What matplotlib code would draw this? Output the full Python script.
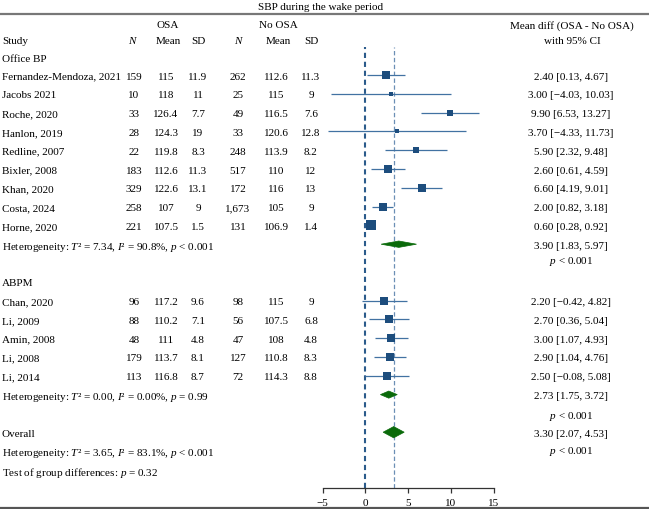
import matplotlib
matplotlib.use("Agg")
import matplotlib.pyplot as plt
import matplotlib.transforms as mtrans
from matplotlib.patches import Polygon
from matplotlib.lines import Line2D
import numpy as np

plt.rcParams['font.family'] = ['Liberation Serif', 'DejaVu Serif']
plt.rcParams['mathtext.fontset'] = 'custom'
plt.rcParams['mathtext.rm'] = 'Liberation Serif'
plt.rcParams['mathtext.it'] = 'Liberation Serif:italic'

# ---------------- data ----------------
office_studies = ["Fernandez-Mendoza, 2021", "Jacobs 2021", "Roche, 2020", "Hanlon, 2019",
                  "Redline, 2007", "Bixler, 2008", "Khan, 2020", "Costa, 2024", "Horne, 2020"]
office_n1 = [159, 10, 33, 28, 22, 183, 329, 258, 221]
office_mean1 = [115, 118, 126.4, 124.3, 119.8, 112.6, 122.6, 107, 107.5]
office_sd1 = [11.9, 11, 7.7, 19, 8.3, 11.3, 13.1, 9, 1.5]
office_n2 = [262, 25, 49, 33, 248, 517, 172, 1673, 131]
office_mean2 = [112.6, 115, 116.5, 120.6, 113.9, 110, 116, 105, 106.9]
office_sd2 = [11.3, 9, 7.6, 12.8, 8.2, 12, 13, 9, 1.4]
office_md = [2.40, 3.00, 9.90, 3.70, 5.90, 2.60, 6.60, 2.00, 0.60]
office_lo = [0.13, -4.03, 6.53, -4.33, 2.32, 0.61, 4.19, 0.82, 0.28]
office_hi = [4.67, 10.03, 13.27, 11.73, 9.48, 4.59, 9.01, 3.18, 0.92]
office_weight = [10.5, 3.5, 9.5, 4.0, 7.5, 12.0, 12.0, 15.0, 17.0]

abpm_studies = ["Chan, 2020", "Li, 2009", "Amin, 2008", "Li, 2008", "Li, 2014"]
abpm_n1 = [96, 88, 48, 179, 113]
abpm_mean1 = [117.2, 110.2, 111, 113.7, 116.8]
abpm_sd1 = [9.6, 7.1, 4.8, 8.1, 8.7]
abpm_n2 = [98, 56, 47, 127, 72]
abpm_mean2 = [115, 107.5, 108, 110.8, 114.3]
abpm_sd2 = [9, 6.8, 4.8, 8.3, 8.8]
abpm_md = [2.20, 2.70, 3.00, 2.90, 2.50]
abpm_lo = [-0.42, 0.36, 1.07, 1.04, -0.08]
abpm_hi = [4.82, 5.04, 4.93, 4.76, 5.08]
abpm_weight = [10.0, 10.0, 12.5, 12.5, 10.0]

pooled_labels = ["Office BP", "ABPM", "Overall"]
pooled_md = [3.90, 2.73, 3.30]
pooled_lo = [1.83, 1.75, 2.07]
pooled_hi = [5.97, 3.72, 4.53]
pooled_p = ["$p$ < 0.001", "$p$ < 0.001", "$p$ < 0.001"]
het_texts = ["Heterogeneity: $T$\u00b2 = 7.34, $I$\u00b2 = 90.8%, $p$ < 0.001",
             "Heterogeneity: $T$\u00b2 = 0.00, $I$\u00b2 = 0.00%, $p$ = 0.99",
             "Heterogeneity: $T$\u00b2 = 3.65, $I$\u00b2 = 83.1%, $p$ < 0.001"]
group_test_text = "Test of group differences: $p$ = 0.32"
x_ticks = [-5, 0, 5, 10, 15]
title = "SBP during the wake period"

# ---------------- layout ----------------
W, H = 649, 510
fig = plt.figure(figsize=(W / 100, H / 100), dpi=100)
FS = 8.0
VA = "center_baseline"

ROW0_PX = 76.0
ROW_PX = 18.8
AX_TOP_PX, AX_BOT_PX = 48.0, 489.0
AX_L_PX, AX_R_PX = 322.7, 493.7

ax = fig.add_axes([AX_L_PX / W, 1 - AX_BOT_PX / H, (AX_R_PX - AX_L_PX) / W, (AX_BOT_PX - AX_TOP_PX) / H])
ax.set_xlim(x_ticks[0], x_ticks[-1])
ax.set_ylim((AX_BOT_PX - ROW0_PX) / ROW_PX, (AX_TOP_PX - ROW0_PX) / ROW_PX)
ax.patch.set_alpha(0)
for s in ["top", "left", "right"]:
    ax.spines[s].set_visible(False)
ax.spines["bottom"].set_color("#333333")
ax.spines["bottom"].set_linewidth(0.9)
ax.set_yticks([])
ax.set_xticks(x_ticks)
ax.set_xticklabels([f"{t}".replace("-", "\u2212") for t in x_ticks], fontsize=FS)
ax.tick_params(axis="x", direction="out", length=3.5, width=0.9, color="#333333", pad=3.5)

trans = mtrans.blended_transform_factory(fig.transFigure, ax.transData)

def fx(px):
    return px / W

def row_of_px(py):
    return (py - ROW0_PX) / ROW_PX

def txt(px, y, s, ha="center", **kw):
    fig.text(fx(px), y, s, transform=trans, ha=ha, va=VA, fontsize=FS, **kw)

SQ_COL = "#1d4d7d"
LN_COL = "#4272a2"
DM_COL = "#0a6a0a"

# reference lines
ax.axvline(0, color="#2b5b8b", lw=1.5, ls=(0, (2.5, 1.8)), zorder=1)
ax.axvline(pooled_md[2], color="#6b8fb5", lw=0.9, ls=(0, (3.5, 2)), zorder=1)

# columns (pixel centers)
COL_STUDY = 2
COL_X = [134, 166, 198, 238, 276, 311]
COL_RIGHT = 571

def fmt(v):
    return f"{v:,}" if isinstance(v, int) else f"{v:g}"

def fmt_ci(md, lo, hi):
    f = lambda v: f"{v:.2f}".replace("-", "\u2212")
    return f"{f(md)} [{f(lo)}, {f(hi)}]"

def draw_group(start, studies, cols, md, lo, hi, w):
    for i, name in enumerate(studies):
        y = start + i
        txt(COL_STUDY, y, name, ha="left")
        for cx, col in zip(COL_X, cols):
            txt(cx, y, fmt(col[i]))
        ax.plot([lo[i], hi[i]], [y, y], color=LN_COL, lw=0.9, zorder=2, clip_on=False, solid_capstyle="butt")
        ax.plot([md[i]], [y], marker="s", ms=2.25 * np.sqrt(w[i]) / 1.389, color=SQ_COL,
                mec=SQ_COL, mew=0, zorder=3, clip_on=False)
        txt(COL_RIGHT, y, fmt_ci(md[i], lo[i], hi[i]))

def diamond(y, md, lo, hi, half):
    poly = Polygon([[lo, y], [md, y - half], [hi, y], [md, y + half]], closed=True,
                   facecolor=DM_COL, edgecolor=DM_COL, lw=0.5, zorder=4, clip_on=False)
    ax.add_patch(poly)

# header
fig.text(fx(321), 1 - 6 / H, title, ha="center", va=VA, fontsize=FS)
fig.add_artist(Line2D([0, 1], [1 - 15 / H, 1 - 15 / H], color="#777777", lw=1.6, transform=fig.transFigure))
fig.add_artist(Line2D([0, 1], [1 - 508.5 / H, 1 - 508.5 / H], color="#555555", lw=1.6, transform=fig.transFigure))
y1, y2 = row_of_px(25), row_of_px(40)
txt(COL_STUDY, y2, "Study", ha="left")
txt(COL_X[0] - 2, y2, "N", fontstyle="italic")
txt(COL_X[1] + 2, y1, "OSA")
txt(COL_X[1] + 2, y2, "Mean")
txt(COL_X[2], y2, "SD")
txt(COL_X[3], y2, "N", fontstyle="italic")
txt(COL_X[4] + 2, y1, "No OSA")
txt(COL_X[4] + 2, y2, "Mean")
txt(COL_X[5], y2, "SD")
txt(COL_RIGHT + 1, y1, "Mean diff (OSA - No OSA)")
txt(COL_RIGHT + 1, y2, "with 95% CI")

# Office BP group
txt(COL_STUDY, row_of_px(59), pooled_labels[0], ha="left")
draw_group(0, office_studies,
           [office_n1, office_mean1, office_sd1, office_n2, office_mean2, office_sd2],
           office_md, office_lo, office_hi, office_weight)
g1 = len(office_studies)
txt(COL_STUDY, g1, het_texts[0], ha="left")
diamond(g1, pooled_md[0], pooled_lo[0], pooled_hi[0], 0.17)
txt(COL_RIGHT, g1, fmt_ci(pooled_md[0], pooled_lo[0], pooled_hi[0]))
txt(COL_RIGHT, g1 + 0.78, pooled_p[0])

# ABPM group
s2 = g1 + 2
txt(COL_STUDY, s2, pooled_labels[1], ha="left")
draw_group(s2 + 1, abpm_studies,
           [abpm_n1, abpm_mean1, abpm_sd1, abpm_n2, abpm_mean2, abpm_sd2],
           abpm_md, abpm_lo, abpm_hi, abpm_weight)
g2 = s2 + 1 + len(abpm_studies)
txt(COL_STUDY, g2, het_texts[1], ha="left")
diamond(g2, pooled_md[1], pooled_lo[1], pooled_hi[1], 0.19)
txt(COL_RIGHT, g2, fmt_ci(pooled_md[1], pooled_lo[1], pooled_hi[1]))
txt(COL_RIGHT, g2 + 1, pooled_p[1])

# Overall
g3 = g2 + 2
txt(COL_STUDY, g3, pooled_labels[2], ha="left")
diamond(g3, pooled_md[2], pooled_lo[2], pooled_hi[2], 0.3)
txt(COL_RIGHT, g3, fmt_ci(pooled_md[2], pooled_lo[2], pooled_hi[2]))
txt(COL_RIGHT, g3 + 0.85, pooled_p[2])
txt(COL_STUDY, g3 + 1, het_texts[2], ha="left")
txt(COL_STUDY, g3 + 2, group_test_text, ha="left")

fig.savefig("out.png", dpi=100)
